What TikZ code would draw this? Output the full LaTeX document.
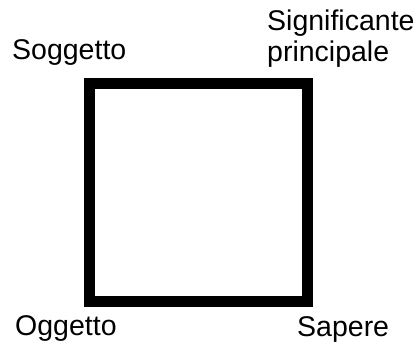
\documentclass[tikz,border=0pt]{standalone}
\usepackage{fontspec}
\setmainfont{Liberation Sans}
\begin{document}
\begin{tikzpicture}[x=1pt,y=-1pt,
  lbl/.style={anchor=base west,inner sep=0pt,font=\fontsize{28.5}{30}\selectfont,align=left}]
\useasboundingbox (0,0) rectangle (420,350);
\coordinate (tl) at (89,84);
\coordinate (tr) at (307,84);
\coordinate (br) at (307,301);
\coordinate (bl) at (89,301);
\draw[line width=11pt,line join=miter] (tl) -- (tr) -- (br) -- (bl) -- cycle;
\node[lbl] (sogg) at (12,60) {Soggetto};
\node[lbl] (sign) at (267,31) {Significante};
\node[lbl] (princ) at (267,62) {principale};
\node[lbl] (ogg) at (15,335) {Oggetto};
\node[lbl] (sap) at (297,336) {Sapere};
\end{tikzpicture}
\end{document}
